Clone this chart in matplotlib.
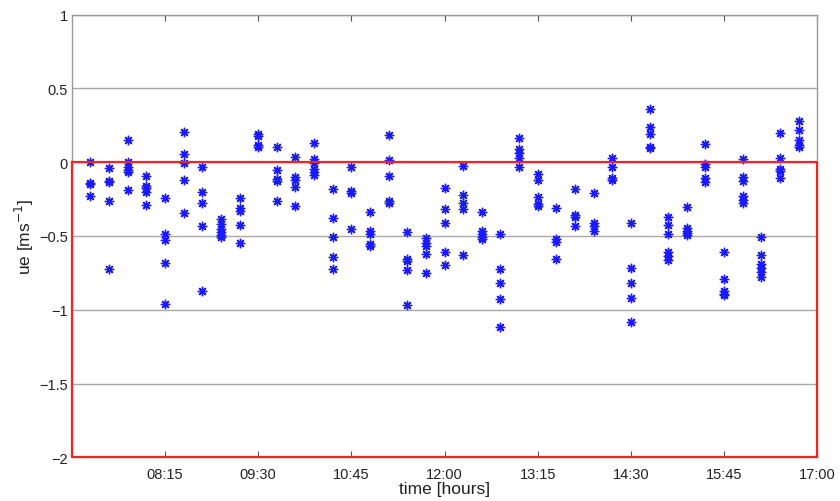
import numpy as np
import matplotlib
matplotlib.use('Agg')
import matplotlib.pyplot as plt

# --- data: ue readings per 15-minute slot ---
slot_times = ['07:15', '07:30', '07:45', '08:00', '08:15', '08:30', '08:45',
              '09:00', '09:15', '09:30', '09:45', '10:00', '10:15', '10:30',
              '10:45', '11:00', '11:15', '11:30', '11:45', '12:00', '12:15',
              '12:30', '12:45', '13:00', '13:15', '13:30', '13:45', '14:00',
              '14:15', '14:30', '14:45', '15:00', '15:15', '15:30', '15:45',
              '16:00', '16:15', '16:30', '16:45']

ue_values = [
    [0.0, -0.14, -0.15, -0.23],
    [-0.04, -0.125, -0.135, -0.26, -0.725],
    [0.15, 0.0, -0.03, -0.05, -0.065, -0.19],
    [-0.095, -0.16, -0.175, -0.2, -0.29],
    [-0.24, -0.485, -0.53, -0.685, -0.96],
    [0.205, 0.055, -0.005, -0.12, -0.345],
    [-0.03, -0.2, -0.28, -0.43, -0.87],
    [-0.385, -0.42, -0.45, -0.47, -0.495, -0.51],
    [-0.245, -0.31, -0.33, -0.425, -0.55],
    [0.19, 0.175, 0.115, 0.105],
    [0.105, -0.05, -0.115, -0.13, -0.265],
    [0.035, -0.1, -0.12, -0.165, -0.3],
    [0.13, 0.02, -0.005, -0.045, -0.065, -0.09],
    [-0.18, -0.38, -0.505, -0.64, -0.725],
    [-0.035, -0.195, -0.21, -0.455],
    [-0.335, -0.465, -0.49, -0.555, -0.57],
    [0.185, 0.015, -0.095, -0.26, -0.275],
    [-0.475, -0.655, -0.67, -0.73, -0.97],
    [-0.515, -0.545, -0.565, -0.625, -0.75],
    [-0.175, -0.315, -0.415, -0.61, -0.7],
    [-0.025, -0.225, -0.275, -0.32, -0.63],
    [-0.34, -0.465, -0.49, -0.505, -0.52],
    [-0.485, -0.725, -0.82, -0.93, -1.12],
    [0.165, 0.09, 0.06, 0.03, -0.03],
    [-0.08, -0.12, -0.235, -0.285, -0.295],
    [-0.31, -0.52, -0.54, -0.655],
    [-0.185, -0.36, -0.375, -0.43],
    [-0.21, -0.41, -0.435, -0.465],
    [0.03, -0.035, -0.11, -0.12],
    [-0.415, -0.715, -0.82, -0.92, -1.08],
    [0.36, 0.235, 0.19, 0.105, 0.095],
    [-0.37, -0.425, -0.49, -0.61, -0.635, -0.66],
    [-0.305, -0.445, -0.465, -0.48, -0.495],
    [0.12, -0.015, -0.03, -0.105, -0.135],
    [-0.61, -0.795, -0.875, -0.89, -0.9],
    [0.02, -0.1, -0.125, -0.23, -0.255, -0.275],
    [-0.51, -0.63, -0.69, -0.72, -0.745, -0.775],
    [0.195, 0.025, -0.045, -0.06, -0.11],
    [0.28, 0.22, 0.15, 0.115, 0.1],
]

tick_labels = ['08:15', '09:30', '10:45', '12:00', '13:15', '14:30', '15:45', '17:00']
y_ticks = [1, 0.5, 0, -0.5, -1, -1.5, -2]
x_start, x_end = '07:00', '17:00'
band_top, band_bottom = 0, -2


def to_hours(s):
    h, m = s.split(':')
    return int(h) + int(m) / 60.0


# flatten slots into x/y arrays
xs, ys = [], []
for t, vals in zip(slot_times, ue_values):
    for v in vals:
        xs.append(to_hours(t))
        ys.append(v)

plt.rcParams['font.family'] = ['Liberation Sans', 'DejaVu Sans']

fig = plt.figure(figsize=(8.4, 5.02), dpi=100)
ax = fig.add_axes([0.0855, 0.087, 0.8875, 0.882])

x0, x1 = to_hours(x_start), to_hours(x_end)

# horizontal grid lines
for yv in y_ticks:
    ax.axhline(yv, color='#a8a8a8', lw=1.0, zorder=1)

# red bounding box for the negative half
ax.plot([x0, x0, x1, x1, x0], [band_top, band_bottom, band_bottom, band_top, band_top],
        color='#e6282c', lw=1.6, zorder=5, clip_on=False)

ax.plot(xs, ys, linestyle='none', marker=(8, 2, 0), markersize=6.8,
        markeredgewidth=1.0, color='#1a1aff', zorder=3)

ax.set_xlim(x0, x1)
ax.set_ylim(-2, 1)
ax.set_xticks([to_hours(s) for s in tick_labels])
ax.set_xticklabels(tick_labels)
ax.set_yticks(y_ticks)
ax.set_yticklabels(['1', '0.5', '0', '\u22120.5', '\u22121', '\u22121.5', '\u22122'])

ax.tick_params(axis='x', direction='in', length=4, width=0.8, color='#555555',
               top=True, labelsize=10.5, pad=7, labelcolor='#222222')
ax.tick_params(axis='y', direction='in', length=0, labelsize=10.5, pad=3,
               labelcolor='#222222')

for side in ['top', 'right', 'left', 'bottom']:
    ax.spines[side].set_color('#9a9a9a')
    ax.spines[side].set_linewidth(1.0)

ax.set_xlabel('time [hours]', fontsize=12.5, labelpad=0, color='#222222')
ax.set_ylabel('ue [ms$^{-1}$]', fontsize=12.5, labelpad=2, color='#222222')

plt.savefig('out.png', dpi=100)
